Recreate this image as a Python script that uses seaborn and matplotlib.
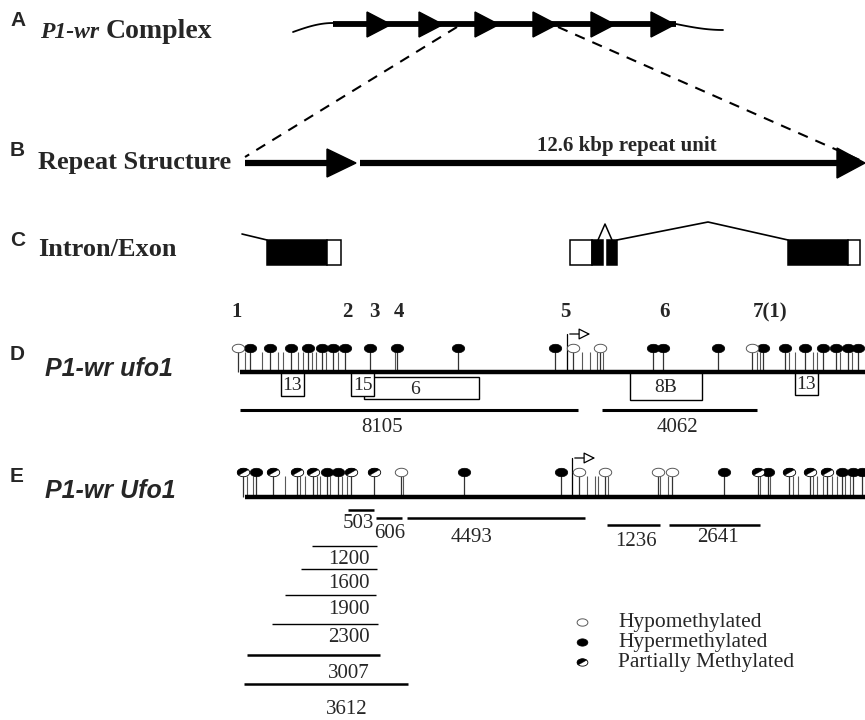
import matplotlib
matplotlib.use('Agg')
import matplotlib.pyplot as plt
import seaborn as sns
import numpy as np
from matplotlib.path import Path
from matplotlib.patches import Polygon, Rectangle, FancyArrowPatch

# ---- datos del diagrama (posiciones en pixeles del esquema) ----
complex_arrow_bases = [367, 419, 475, 533, 591, 651]

site_labels = ['1', '2', '3', '4', '5', '6', '7(1)']
site_pos = [237, 347, 374, 399, 565, 665, 770]

# P1-wr ufo1
d_hyper = [250, 270, 291, 308, 322, 333, 345, 370, 397, 458, 555, 653, 663, 718,
           763, 785, 805, 823, 836, 848, 858]
d_hypo = [238, 573, 600, 752]
d_partial = []
d_bare = [245, 262, 278, 283, 298, 303, 312, 316, 326, 338, 395,
          567, 582, 590, 597, 603, 757, 760, 789, 795, 813, 817, 840, 852]
d_box_labels = ['6', '13', '15', '8B', '13']
d_box_start = [364, 281, 351, 630, 795]
d_box_end = [479, 304, 374, 702, 818]
d_box_top = [377, 372, 372, 372, 372]
d_box_bottom = [399, 396, 396, 400, 395]
d_frag_labels = ['8105', '4062']
d_frag_start = [240, 602]
d_frag_end = [578, 757]

# P1-wr Ufo1
e_hyper = [256, 327, 338, 464, 561, 724, 768, 842, 853, 862]
e_hypo = [401, 579, 605, 658, 672]
e_partial = [243, 273, 297, 313, 351, 374, 758, 789, 810, 827]
e_bare = [247, 253, 285, 300, 305, 317, 320, 330, 342, 347, 403,
          572, 587, 595, 598, 608, 660, 668, 760, 770, 793, 798, 813, 817, 823, 832, 837, 845, 850]
e_frag_labels = ['503', '606', '4493', '1236', '2641', '1200', '1600', '1900', '2300', '3007', '3612']
e_frag_start = [348, 376, 407, 607, 669, 312, 301, 285, 272, 247, 244]
e_frag_end = [374, 402, 585, 660, 760, 377, 377, 376, 378, 380, 408]
e_frag_y = [510, 518, 518, 525, 525, 546, 569, 595, 624, 655, 684]
e_label_x = [358, 390, 472, 636, 718, 349, 349, 349, 349, 349, 347]
e_label_y = [524, 533, 538, 541, 538, 560, 583, 610, 638, 673, 710]
e_frag_lw = [1.8, 1.8, 1.8, 1.8, 1.8, 1.0, 1.0, 1.0, 1.0, 1.8, 1.8]

legend_labels = ['Hypomethylated', 'Hypermethylated', 'Partially Methylated']

SERIF = 'Liberation Serif'
SANS = 'Liberation Sans'

sns.set_style('white')

# marcadores elipticos
t = np.linspace(0, 2 * np.pi, 60)
ellipse = Path(np.column_stack([np.cos(t), 0.68 * np.sin(t)]), closed=True)
th = np.linspace(np.radians(40), np.radians(220), 30)
half = np.column_stack([np.cos(th), 0.68 * np.sin(th)])
half = np.vstack([half, half[:1]])
half_ellipse = Path(half, closed=True)


def cabezas(ax, xs, y, tipo, s=80):
    if len(xs) == 0:
        return
    ys = [y] * len(xs)
    if tipo == 'hyper':
        sns.scatterplot(x=xs, y=ys, marker=ellipse, s=s, color='black',
                        edgecolor='black', linewidth=0.5, ax=ax, zorder=5)
    elif tipo == 'hypo':
        sns.scatterplot(x=xs, y=ys, marker=ellipse, s=s, color='white',
                        edgecolor='0.35', linewidth=0.7, ax=ax, zorder=5)
    else:
        sns.scatterplot(x=xs, y=ys, marker=ellipse, s=s, color='white',
                        edgecolor='black', linewidth=0.6, ax=ax, zorder=5)
        sns.scatterplot(x=xs, y=ys, marker=half_ellipse, s=s, color='black',
                        edgecolor='black', linewidth=0.3, ax=ax, zorder=6)


def pista(ax, y_line, y_head, x0, hyper, hypo, partial, bare, tss):
    ax.plot([x0, 865], [y_line, y_line], color='black', lw=3.2, solid_capstyle='butt', zorder=3)
    cabezas_x = list(hyper) + list(hypo) + list(partial)
    ax.vlines(cabezas_x, y_head, y_line, color='0.2', lw=0.9, zorder=2)
    ax.vlines(bare, y_head + 4, y_line, color='0.35', lw=0.8, zorder=2)
    cabezas(ax, hyper, y_head, 'hyper')
    cabezas(ax, hypo, y_head, 'hypo')
    cabezas(ax, partial, y_head, 'partial')
    # sitio de inicio de la transcripcion
    ax.plot([tss, tss], [y_line, y_head - 14], color='black', lw=0.9, zorder=2)
    ax.add_patch(FancyArrowPatch((tss, y_head - 14), (tss + 26, y_head - 14),
                                 arrowstyle='-|>,head_length=7,head_width=3.5',
                                 mutation_scale=1, lw=0.9, fc='white', ec='black', zorder=4))


fig = plt.figure(figsize=(8.65, 7.2), dpi=100)
ax = fig.add_axes([0, 0, 1, 1])
ax.set_xlim(0, 865)
ax.set_ylim(720, 0)
ax.axis('off')

# ---- A: complejo P1-wr ----
ax.text(10, 21, 'A', fontsize=15, fontweight='bold', family=SANS, va='center')
ax.text(40, 32, 'P1-wr', fontsize=17, fontweight='bold', style='italic', family=SERIF, va='center')
ax.text(106, 32, 'Complex', fontsize=20, fontweight='bold', family=SERIF, va='center')
cx = np.linspace(293, 333, 20)
ax.plot(cx, 32 - 9 * np.sin((cx - 293) / 40 * np.pi / 2), color='black', lw=1.3)
cx2 = np.linspace(676, 723, 20)
ax.plot(cx2, 24 + 6 * np.sin((cx2 - 676) / 47 * np.pi / 2), color='black', lw=1.3)
ax.plot([333, 676], [24, 24], color='black', lw=4.2, solid_capstyle='butt')
for b in complex_arrow_bases:
    ax.add_patch(Polygon([[b, 12], [b, 37], [b + 24, 24.5]], closed=True, color='black'))

# lineas discontinuas hacia B
ax.plot([457, 245], [27, 157], color='black', lw=1.5, ls=(0, (5, 4)))
ax.plot([558, 862], [27, 161], color='black', lw=1.5, ls=(0, (5, 4)))

# ---- B: estructura de repeticion ----
ax.text(10, 150, 'B', fontsize=15, fontweight='bold', family=SANS, va='center')
ax.text(38, 162, 'Repeat Structure', fontsize=19, fontweight='bold', family=SERIF, va='center')
ax.plot([245, 329], [163, 163], color='black', lw=4.5, solid_capstyle='butt')
ax.add_patch(Polygon([[327, 149], [327, 177], [356, 163]], closed=True, color='black'))
ax.plot([360, 839], [163, 163], color='black', lw=4.5, solid_capstyle='butt')
ax.add_patch(Polygon([[837, 148], [837, 178], [865, 163]], closed=True, color='black'))
ax.text(717, 151, '12.6 kbp repeat unit', fontsize=15, fontweight='bold', family=SERIF,
        ha='right', va='baseline')

# ---- C: intrones / exones ----
ax.text(10, 240, 'C', fontsize=15, fontweight='bold', family=SANS, va='center')
ax.text(38, 249, 'Intron/Exon', fontsize=19, fontweight='bold', family=SERIF, va='center')
ax.plot([242, 267], [234, 240], color='black', lw=1.2)
exon_x0 = [267, 327, 570, 592, 607, 788, 848]
exon_x1 = [327, 341, 592, 603, 617, 848, 860]
exon_fill = ['black', 'white', 'white', 'black', 'black', 'black', 'white']
for x0, x1, fc in zip(exon_x0, exon_x1, exon_fill):
    ax.add_patch(Rectangle((x0, 240), x1 - x0, 25, fc=fc, ec='black', lw=1.1))
ax.plot([598, 605, 612], [240, 224, 240], color='black', lw=1.1)
ax.plot([617, 708, 788], [240, 222, 240], color='black', lw=1.2)

# numeros de sitio
for lab, x in zip(site_labels, site_pos):
    ax.text(x, 312, lab, fontsize=15, fontweight='bold', family=SERIF, ha='center', va='center')

# ---- D: P1-wr ufo1 ----
ax.text(10, 354, 'D', fontsize=15, fontweight='bold', family=SANS, va='center')
ax.text(45, 369, 'P1-wr ufo1', fontsize=18, fontweight='bold', style='italic', family=SANS, va='center')
pista(ax, 372, 348, 240, d_hyper, d_hypo, d_partial, d_bare, 567)
for lab, x0, x1, y0, y1 in zip(d_box_labels, d_box_start, d_box_end, d_box_top, d_box_bottom):
    ax.add_patch(Rectangle((x0, y0), x1 - x0, y1 - y0, fc='white', ec='black', lw=1.0, zorder=2))
    cx_lab = (x0 + x1) / 2 if lab != '6' else 415
    ax.text(cx_lab, (y0 + y1) / 2 + 1, lab, fontsize=14, family=SERIF, ha='center', va='center', zorder=3)
for lab, x0, x1 in zip(d_frag_labels, d_frag_start, d_frag_end):
    ax.plot([x0, x1], [410, 410], color='black', lw=2.2, solid_capstyle='butt')
ax.text(382, 428, d_frag_labels[0], fontsize=15, family=SERIF, ha='center', va='center')
ax.text(677, 427, d_frag_labels[1], fontsize=15, family=SERIF, ha='center', va='center')

# ---- E: P1-wr Ufo1 ----
ax.text(10, 477, 'E', fontsize=15, fontweight='bold', family=SANS, va='center')
ax.text(45, 491, 'P1-wr Ufo1', fontsize=18, fontweight='bold', style='italic', family=SANS, va='center')
pista(ax, 497, 472, 245, e_hyper, e_hypo, e_partial, e_bare, 572)
for lab, x0, x1, y, lx, ly, lw in zip(e_frag_labels, e_frag_start, e_frag_end, e_frag_y,
                                       e_label_x, e_label_y, e_frag_lw):
    ax.plot([x0, x1], [y, y], color='black', lw=lw, solid_capstyle='butt')
    ax.text(lx, ly, lab, fontsize=15, family=SERIF, ha='center', va='center')

# ---- leyenda ----
ley_y = [622, 642, 662]
cabezas(ax, [582], ley_y[0], 'hypo', s=60)
cabezas(ax, [582], ley_y[1], 'hyper', s=60)
cabezas(ax, [582], ley_y[2], 'partial', s=60)
for lab, y in zip(legend_labels, ley_y):
    ax.text(618, y, lab, fontsize=15.5, family=SERIF, va='center')

ax.set_xlim(0, 865)
ax.set_ylim(720, 0)
fig.savefig('out.png', dpi=100)
